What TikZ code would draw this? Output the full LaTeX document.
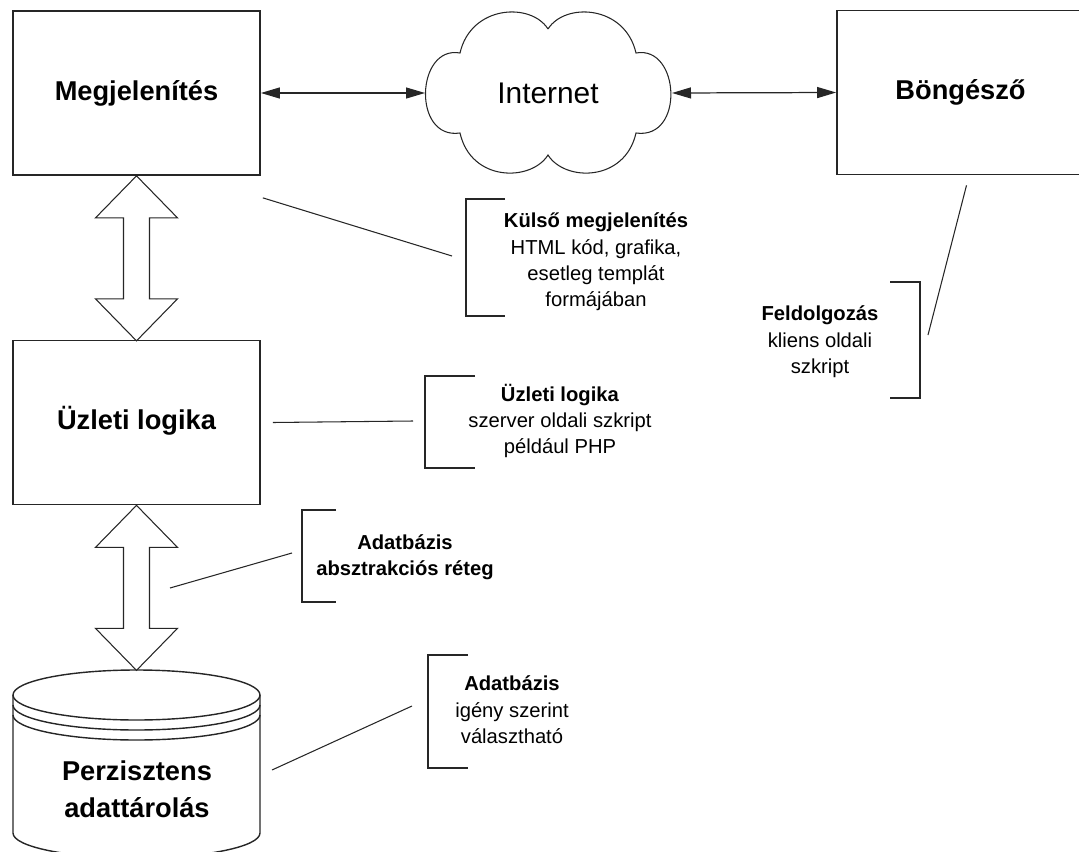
\documentclass[tikz,border=0pt]{standalone}
\usepackage{fontspec}
\setmainfont{Liberation Sans}
\usetikzlibrary{arrows.meta}
\tikzset{
  layerbox/.style={draw=black!85, line width=1pt, minimum width=4.94cm, minimum height=3.28cm,
    align=center, text height=11pt, text depth=3pt, font=\fontsize{15.5}{21}\selectfont\bfseries},
  layertext/.style={align=center, font=\fontsize{15.5}{21}\selectfont\bfseries},
  notetext/.style={align=center, font=\fontsize{11.5}{15}\selectfont},
  bracket/.style={draw=black!85, line width=0.8pt},
  pointer/.style={draw=black!85, line width=0.6pt},
  netarrow/.style={draw=black!85, line width=0.7pt,
    {Triangle[length=0.38cm,width=0.22cm]}-{Triangle[length=0.38cm,width=0.22cm]}},
  twoway/.pic={
    \draw[black!85, line width=0.6pt, fill=white] (0,0) -- (-41,42) -- (-13,42) -- (-13,123)
      -- (-41,123) -- (0,165) -- (41,123) -- (13,123) -- (13,42) -- (41,42) -- cycle;
  }
}
\begin{document}
\begin{tikzpicture}[x=0.02cm, y=-0.02cm]
  \useasboundingbox (0,0) rectangle (1079,852);
  % Layers
  \node[layerbox] (meg) at (136.5,93) {Megjelenítés};
  \node[layerbox] (uzl) at (136.5,422.5) {Üzleti logika};
  \node[layerbox] (bong) at (960.5,92.5) {Böngésző};
  % Storage cylinder
  \draw[black!85, line width=0.8pt] (13,695) -- (13,833) arc[start angle=180, end angle=0, x radius=123.5, y radius=25] -- (260,695);
  \draw[black!85, line width=0.8pt] (136.5,695) ellipse [x radius=123.5, y radius=25];
  \draw[black!85, line width=0.8pt] (13,705) arc[start angle=180, end angle=0, x radius=123.5, y radius=25];
  \draw[black!85, line width=0.8pt] (13,715) arc[start angle=180, end angle=0, x radius=123.5, y radius=25];
  \node[layertext] (store) at (137,789) {Perzisztens\\adattárolás};
  % Block arrows between layers
  \pic at (meg.south) {twoway};
  \pic at (uzl.south) {twoway};
  % Cloud
  \draw[black!85, line width=0.6pt] (548,29) .. controls (565,2) and (625,5) .. (636,53)
    .. controls (680,45) and (685,140) .. (636,133)
    .. controls (625,182) and (565,182) .. (548,155)
    .. controls (531,182) and (471,182) .. (460,133)
    .. controls (412,140) and (416,45) .. (460,53)
    .. controls (471,5) and (531,2) .. (548,29);
  \node[font=\fontsize{17}{20}\selectfont] (inet) at (548,93) {Internet};
  \coordinate (cloudw) at (425,93);
  \coordinate (cloude) at (672,93);
  \draw[netarrow] (meg.east) -- (cloudw);
  \draw[netarrow] (cloude) -- (bong.west);
  % Notes
  \node[notetext] (kulso) at (596,262) {\textbf{Külső megjelenítés}\\HTML kód, grafika,\\esetleg templát\\formájában};
  \node[notetext] (logika) at (560,421) {\textbf{Üzleti logika}\\szerver oldali szkript\\például PHP};
  \node[notetext] (absz) at (405,557) {\textbf{Adatbázis}\\\textbf{absztrakciós réteg}};
  \node[notetext] (adatb) at (512,710) {\textbf{Adatbázis}\\igény szerint\\választható};
  \node[notetext] (feld) at (820,342) {\textbf{Feldolgozás}\\kliens oldali\\szkript};
  % Brackets
  \draw[bracket] (505,199) -- (466,199) -- (466,316) -- (505,316);
  \draw[bracket] (475,376) -- (425,376) -- (425,468) -- (475,468);
  \draw[bracket] (336,510) -- (302,510) -- (302,602) -- (336,602);
  \draw[bracket] (468,655) -- (428,655) -- (428,768) -- (468,768);
  \draw[bracket] (890,282) -- (920,282) -- (920,398) -- (890,398);
  % Pointer lines
  \coordinate (kulsoend) at (452,256);
  \coordinate (logikaend) at (413,421);
  \coordinate (abszstart) at (170,588);
  \coordinate (abszend) at (292,553);
  \coordinate (adatbend) at (412,706);
  \coordinate (feldend) at (928,335);
  \draw[pointer] ([shift={(2,22)}]meg.south east) -- (kulsoend);
  \draw[pointer] ([xshift=12*0.02cm]uzl.east) -- (logikaend);
  \draw[pointer] (abszstart) -- (abszend);
  \draw[pointer] ([shift={(135,-19)}]store.center) -- (adatbend);
  \draw[pointer] ([shift={(6,10)}]bong.south) -- (feldend);
\end{tikzpicture}
\end{document}
